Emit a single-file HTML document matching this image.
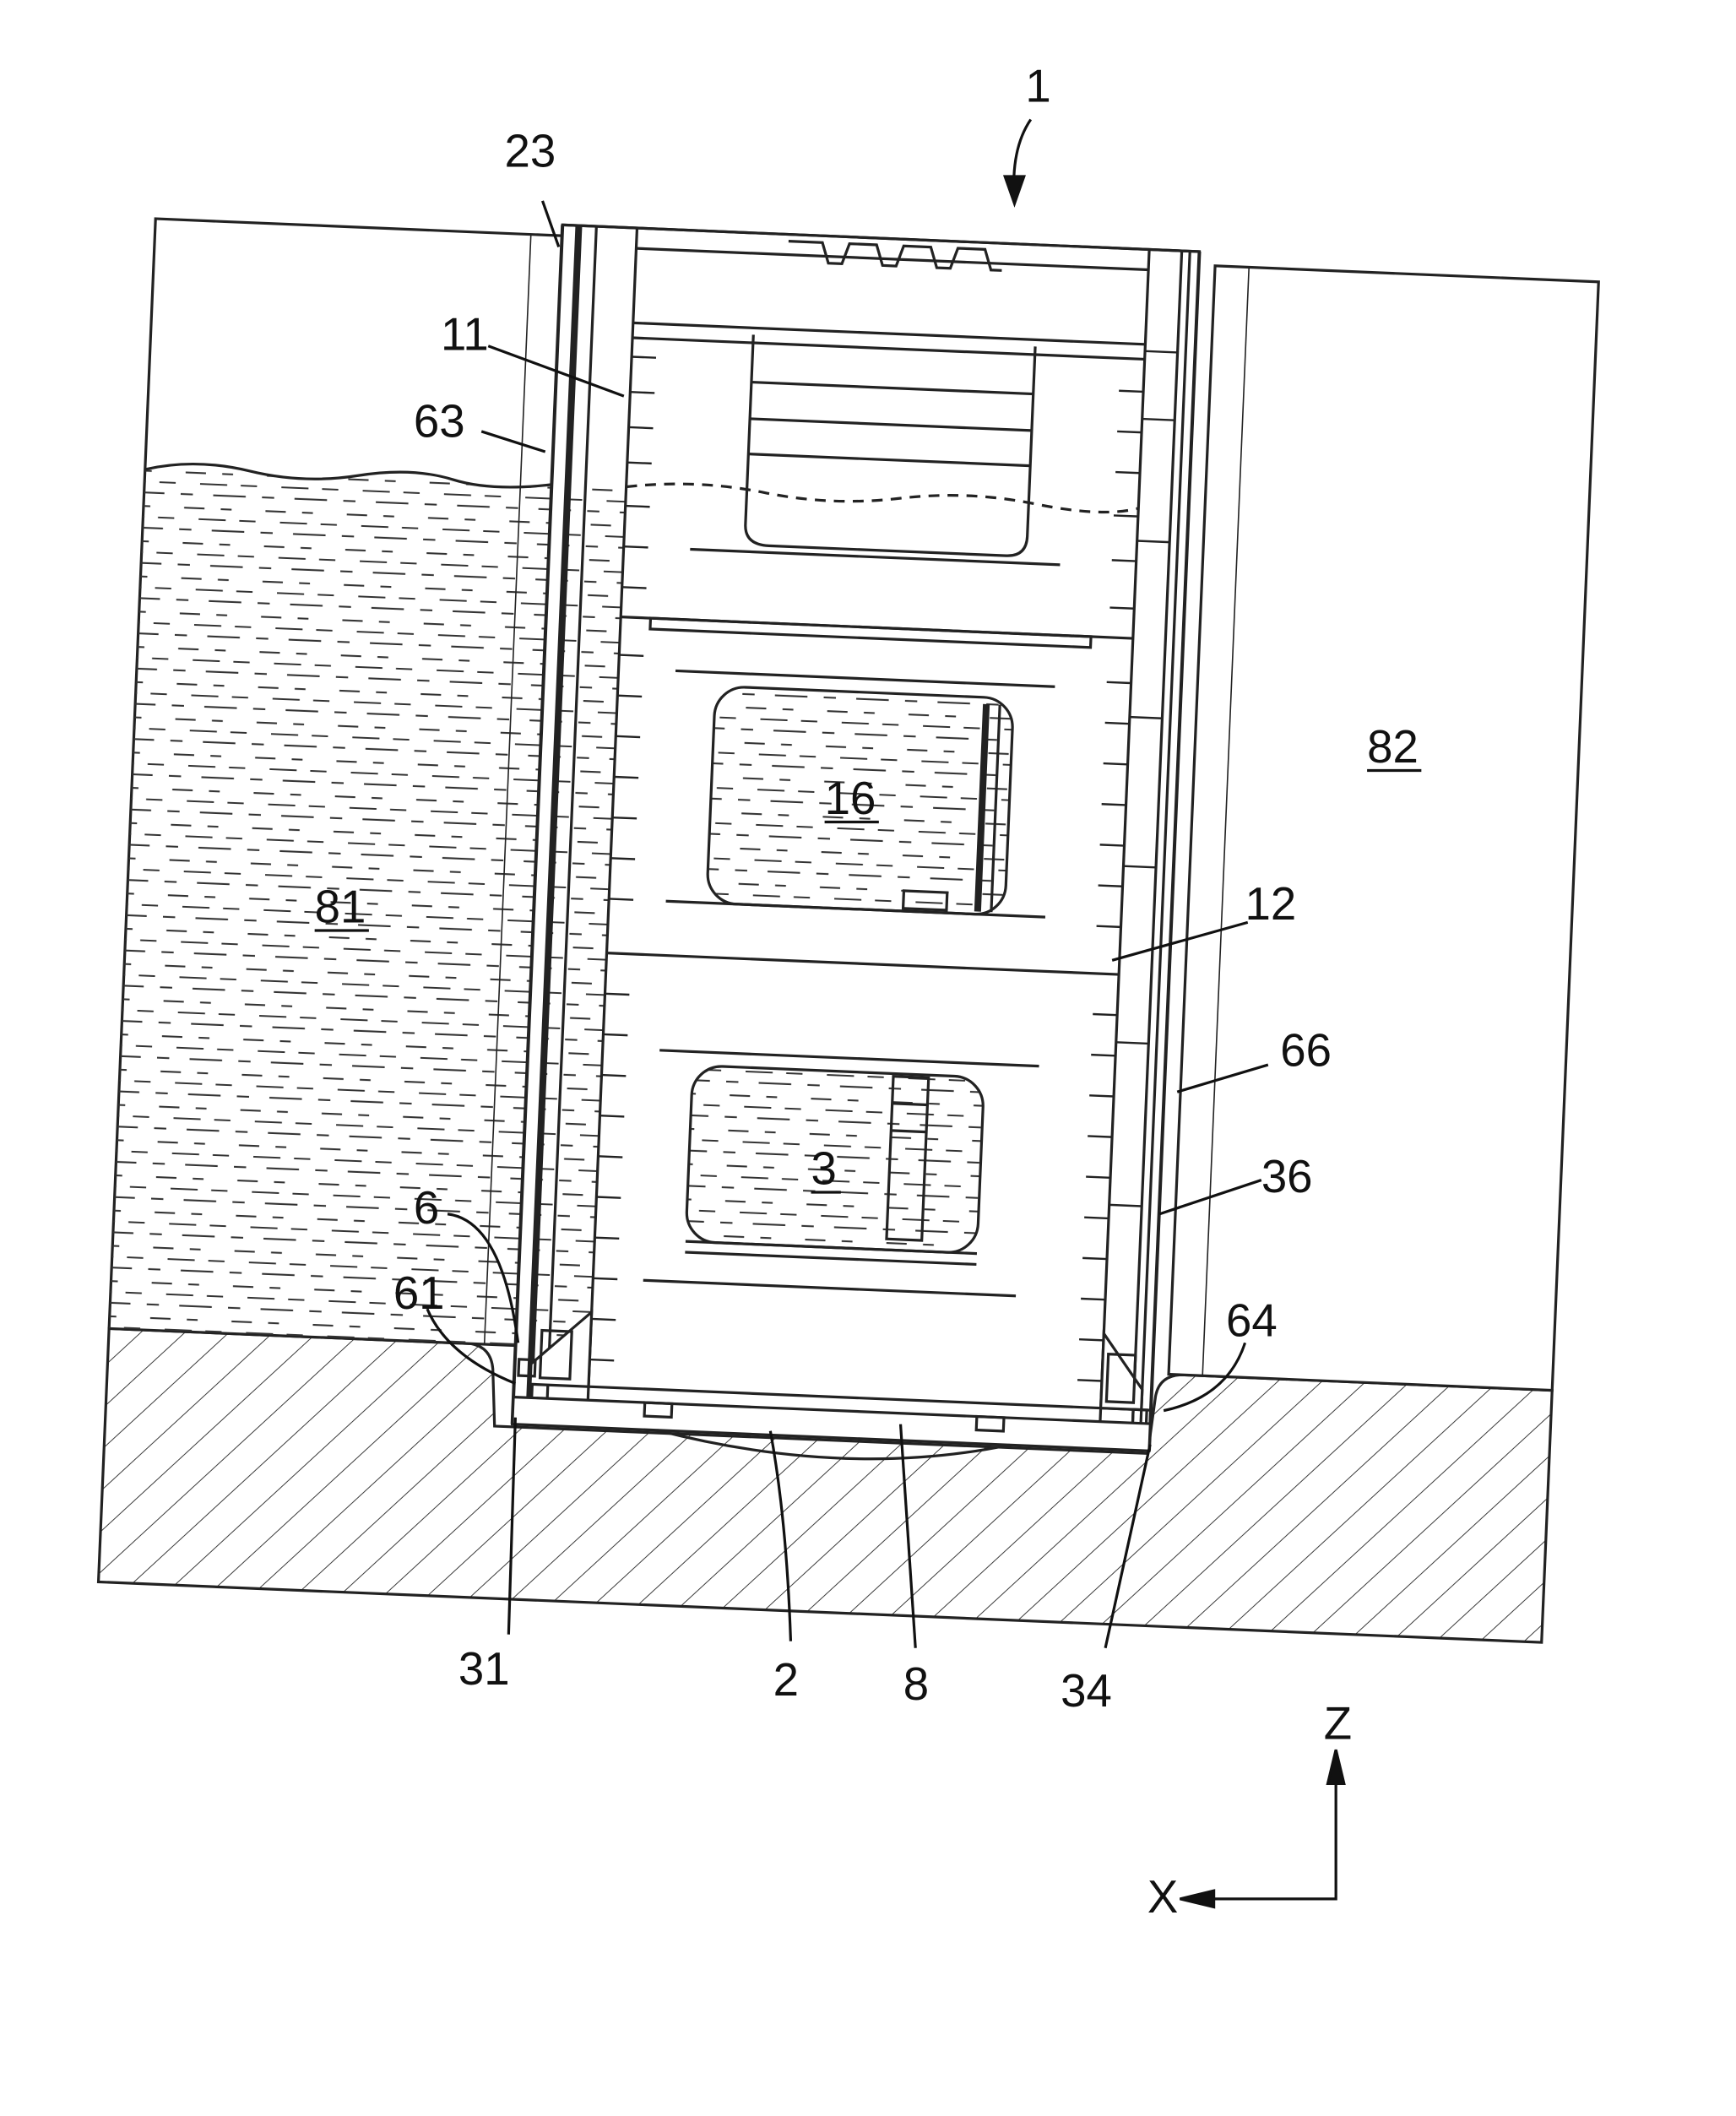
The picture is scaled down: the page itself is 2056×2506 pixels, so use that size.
<!DOCTYPE html>
<html><head><meta charset="utf-8"><style>
html,body{margin:0;padding:0;background:#fff}
svg{display:block}
text{font-family:"Liberation Sans",sans-serif;font-size:34px;fill:#111}
</style></head><body>
<svg width="2056" height="2506" viewBox="0 0 1280 1560" xmlns="http://www.w3.org/2000/svg">
<defs>
<pattern id="hatch" width="22" height="22" patternUnits="userSpaceOnUse" patternTransform="rotate(45)">
<line x1="0" y1="0" x2="0" y2="22" stroke="#333" stroke-width="1.2"/>
</pattern>
<pattern id="water" width="60" height="26" patternUnits="userSpaceOnUse">
<line x1="3" y1="5" x2="18" y2="5" stroke="#333" stroke-width="1.3"/>
<line x1="30" y1="5" x2="38" y2="5" stroke="#333" stroke-width="1.3"/>
<line x1="14" y1="13" x2="34" y2="13" stroke="#333" stroke-width="1.3"/>
<line x1="44" y1="13" x2="56" y2="13" stroke="#333" stroke-width="1.3"/>
<line x1="0" y1="21" x2="9" y2="21" stroke="#333" stroke-width="1.3"/>
<line x1="24" y1="21" x2="48" y2="21" stroke="#333" stroke-width="1.3"/>
</pattern>
</defs>
<g transform="rotate(2.4 625 690)" stroke="#222" stroke-width="2" fill="none">
<path d="M93 1002 L360 1002 Q375 1004 377 1020 L380 1062 L862 1062 L866 1020 Q868 1004 885 1003 L1158 1003 L1158 1189 L93 1189 Z" fill="url(#hatch)"/>
<rect x="93" y="183" width="304" height="819" fill="#fff"/>
<path d="M93 368 Q130 358 170 366 T250 366 T320 366 T397 366 L397 1002 L93 1002 Z" fill="url(#water)" stroke="none"/>
<path d="M93 368 Q130 358 170 366 T250 366 T320 366 T397 366"/>
<line x1="370" y1="183" x2="370" y2="1002" stroke-width="1"/>
<rect x="875" y="185" width="283" height="818" fill="#fff"/>
<line x1="900" y1="185" x2="900" y2="1003" stroke-width="1"/>
<rect x="393" y="175" width="470" height="885" fill="#fff"/>
<path d="M405 366 L448 366 L448 1000 L405 1000 Z" fill="url(#water)" stroke="none"/>
<line x1="393" y1="175" x2="393" y2="1060" stroke-width="2.5"/>
<line x1="405" y1="175" x2="405" y2="1040" stroke-width="5"/>
<line x1="418" y1="175" x2="418" y2="1040"/>
<line x1="448" y1="175" x2="448" y2="1040"/>
<line x1="826" y1="175" x2="826" y2="1040"/>
<line x1="850" y1="175" x2="850" y2="1040"/>
<line x1="856" y1="175" x2="856" y2="1040"/>
<line x1="863" y1="175" x2="863" y2="1060" stroke-width="2.5"/>
<line x1="393" y1="175" x2="863" y2="175"/>
<line x1="448" y1="190" x2="826" y2="190"/>
<path d="M560 180 L585 180 L590 195 L600 195 L605 180 L625 180 L630 195 L640 195 L645 180 L665 180 L670 195 L680 195 L685 180 L705 180 L710 195 L718 195" />
<line x1="448" y1="245" x2="826" y2="245"/>
<line x1="448" y1="256" x2="826" y2="256"/>
<line x1="448" y1="462" x2="826" y2="462"/>
<rect x="470" y="462" width="325" height="8"/>
<line x1="448" y1="710" x2="826" y2="710"/>
<line x1="448" y1="1030" x2="863" y2="1030"/>
<line x1="497" y1="410" x2="770" y2="410"/>
<line x1="490" y1="500" x2="770" y2="500"/>
<line x1="490" y1="670" x2="770" y2="670"/>
<line x1="490" y1="780" x2="770" y2="780"/>
<line x1="485" y1="950" x2="760" y2="950"/>
<path d="M537 250 L537 390 Q537 405 555 405 L730 405 Q745 405 745 390 L745 250"/>
<line x1="537" y1="285" x2="745" y2="285"/>
<line x1="537" y1="312" x2="745" y2="312"/>
<line x1="537" y1="338" x2="745" y2="338"/>
<path d="M448 366 Q500 358 550 366 T650 366 T750 366 T826 366" stroke-dasharray="8 6"/>
<rect x="520" y="510" width="220" height="160" rx="22" fill="url(#water)"/>
<line x1="720" y1="515" x2="720" y2="668" stroke-width="5"/>
<line x1="730" y1="515" x2="730" y2="668"/>
<rect x="665" y="655" width="32" height="13"/>
<rect x="515" y="790" width="215" height="130" rx="22" fill="url(#water)"/>
<rect x="663" y="792" width="26" height="120"/>
<line x1="663" y1="812" x2="689" y2="812"/><line x1="663" y1="832" x2="689" y2="832"/>
<line x1="515" y1="920" x2="730" y2="920"/><line x1="515" y1="928" x2="730" y2="928"/>
<g stroke-width="1.5">
<path d="M448 270h18M448 296h18M448 322h18M448 348h18M448 380h18M448 410h18M448 440h18M448 490h18M448 520h18M448 550h18M448 580h18M448 610h18M448 640h18M448 670h18M448 740h18M448 770h18M448 800h18M448 830h18M448 860h18M448 890h18M448 920h18M448 950h18M448 980h18M448 1010h18"/>
<path d="M826 280h-18M826 310h-18M826 340h-18M826 372h-18M826 405h-18M826 440h-18M826 495h-18M826 525h-18M826 555h-18M826 585h-18M826 615h-18M826 645h-18M826 675h-18M826 740h-18M826 770h-18M826 800h-18M826 830h-18M826 860h-18M826 890h-18M826 920h-18M826 950h-18M826 980h-18M826 1010h-18"/>
<path d="M826 250h24M826 300h24M826 390h24M826 520h24M826 630h24M826 760h24M826 880h24"/>
</g>
<path d="M448 975 L405 1015 L405 1030 L448 1030 Z" fill="#fff"/>
<rect x="412" y="990" width="22" height="35"/>
<path d="M826 975 L856 1015 L856 1030 L826 1030 Z" fill="#fff"/>
<rect x="830" y="990" width="20" height="35"/>
<rect x="396" y="1012" width="12" height="12"/>
<rect x="850" y="1030" width="10" height="12"/>
<rect x="393" y="1040" width="470" height="20" fill="#fff"/>
<path d="M500 1060 Q640 1090 760 1060" />
<rect x="490" y="1040" width="20" height="10"/><rect x="735" y="1040" width="20" height="10"/>
</g>
<g stroke="#111" stroke-width="2" fill="none">
<path d="M760 88 Q745 110 748 148"/><path d="M741 130 L748 150 L755 130 Z" fill="#111"/>
<line x1="400" y1="148" x2="412" y2="182"/>
<line x1="360" y1="255" x2="460" y2="292"/>
<line x1="355" y1="318" x2="402" y2="333"/>
<path d="M330 895 Q370 900 382 990"/>
<path d="M315 965 Q330 1000 380 1020"/>
<line x1="380" y1="1045" x2="375" y2="1205"/>
<path d="M568 1055 Q580 1120 583 1210"/>
<path d="M664 1050 L675 1215"/>
<line x1="848" y1="1065" x2="815" y2="1215"/>
<line x1="920" y1="680" x2="820" y2="708"/>
<line x1="935" y1="785" x2="868" y2="805"/>
<line x1="930" y1="870" x2="855" y2="895"/>
<path d="M918 990 Q905 1030 858 1040"/>
<path d="M985 1295 L985 1400 L875 1400"/>
<path d="M979 1315 L985 1290 L991 1315 Z" fill="#111"/>
<path d="M895 1394 L870 1400 L895 1406 Z" fill="#111"/>
</g>
<g>
<text x="756" y="75">1</text><text x="372" y="123">23</text><text x="325" y="258">11</text>
<text x="305" y="322">63</text><text x="608" y="600">16</text><text x="232" y="680">81</text>
<text x="1008" y="562">82</text><text x="918" y="678">12</text><text x="944" y="786">66</text>
<text x="930" y="879">36</text><text x="598" y="873">3</text><text x="305" y="902">6</text>
<text x="290" y="965">61</text><text x="904" y="985">64</text><text x="338" y="1242">31</text>
<text x="570" y="1250">2</text><text x="666" y="1253">8</text><text x="782" y="1258">34</text>
<text x="976" y="1282">Z</text><text x="846" y="1410">X</text>
</g>
<g stroke="#111" stroke-width="2">
<line x1="608" y1="606" x2="648" y2="606"/><line x1="232" y1="686" x2="272" y2="686"/>
<line x1="1008" y1="568" x2="1048" y2="568"/><line x1="598" y1="879" x2="620" y2="879"/>
</g>
</svg>
</body></html>
